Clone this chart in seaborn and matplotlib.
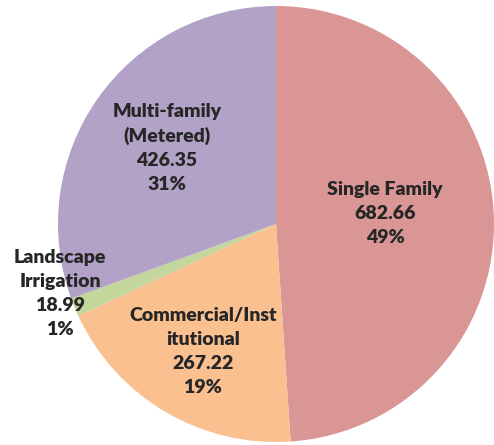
import matplotlib
matplotlib.use("Agg")
import matplotlib.pyplot as plt
import seaborn as sns

# water use by sector
categories = ["Single Family", "Commercial/Inst\nitutional", "Landscape\nIrrigation", "Multi-family\n(Metered)"]
values = [682.66, 267.22, 18.99, 426.35]
colors = ["#D99694", "#FAC090", "#C3D69B", "#B3A2C7"]
# where each label block sits (pie radius = 1)
label_pos = [(0.50, 0.05), (-0.335, -0.587), (-0.99, -0.317), (-0.50, 0.349)]

sns.set_style("white")
plt.rcParams['font.family'] = ['Lato', 'DejaVu Sans']

fig = plt.figure(figsize=(4.94, 4.45), dpi=100)
cx, cy, r = 276, 224, 218
ax = fig.add_axes([(cx - r) / 494, (445 - cy - r) / 445, 2 * r / 494, 2 * r / 445])

wedges, _ = ax.pie(values, colors=colors, startangle=90, counterclock=False,
                   radius=1, wedgeprops=dict(linewidth=0))
ax.set_xlim(-1, 1)
ax.set_ylim(-1, 1)
ax.set_aspect("equal")

total = sum(values)
for cat, v, (x, y) in zip(categories, values, label_pos):
    txt = f"{cat}\n{v:.2f}\n{v / total * 100:.0f}%"
    ax.text(x, y, txt, ha="center", va="center", fontsize=14,
            fontweight="heavy", linespacing=1.5, clip_on=False)

fig.savefig("out.png", dpi=100)
